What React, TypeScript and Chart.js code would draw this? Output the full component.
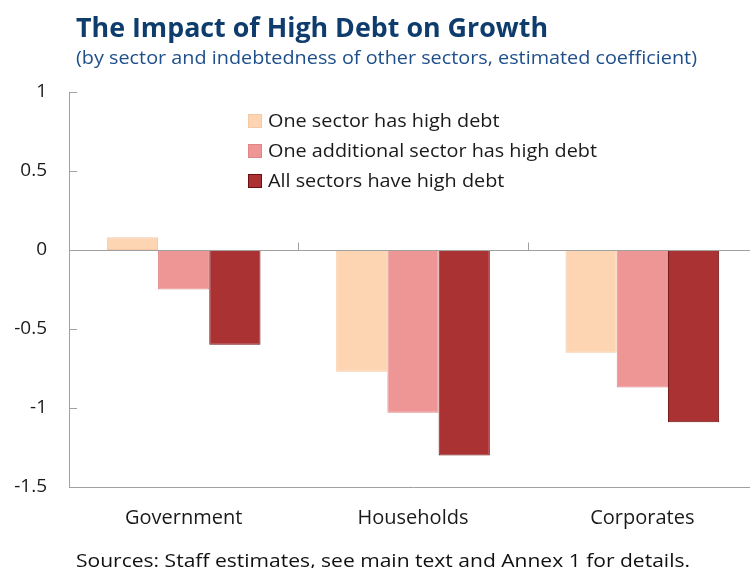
import { useEffect, useRef } from 'react';
import { Chart, registerables } from 'chart.js';

Chart.register(...registerables);

const categories = ['Government', 'Households', 'Corporates'];
const oneSector = [0.08, -0.77, -0.65];
const oneAdditional = [-0.25, -1.03, -0.87];
const allSectors = [-0.6, -1.3, -1.09];
const yTicks = [1, 0.5, 0, -0.5, -1, -1.5];
const seriesNames = ['One sector has high debt', 'One additional sector has high debt', 'All sectors have high debt'];

const titleText = 'The Impact of High Debt on Growth';
const subtitleText = '(by sector and indebtedness of other sectors, estimated coefficient)';
const sourceText = 'Sources: Staff estimates, see main text and Annex 1 for details.';

const FONT = '"Open Sans", "Noto Sans", sans-serif';
const fills = ['#FDD5B3', '#EE9696', '#AA3232'];
const borders = ['#F6C9A2', '#E28585', '#6E0E0E'];

function fitText(ctx: CanvasRenderingContext2D, text: string, x: number, y: number, width: number) {
  const w = ctx.measureText(text).width;
  ctx.save();
  ctx.translate(x, y);
  ctx.scale(width / w, 1);
  ctx.fillText(text, 0, 0);
  ctx.restore();
}

const overlay = {
  id: 'overlay',
  afterDatasetsDraw(chart: any) {
    const { ctx, chartArea, scales } = chart;
    const x = scales.x;
    const y = scales.y;
    const y0 = Math.round(y.getPixelForValue(0)) + 0.5;
    ctx.save();
    ctx.strokeStyle = '#a0a0a0';
    ctx.lineWidth = 1;
    ctx.beginPath();
    ctx.moveTo(chartArea.left, y0);
    ctx.lineTo(chartArea.right, y0);
    for (let i = 1; i < categories.length; i++) {
      const px = Math.round((x.getPixelForValue(i - 1) + x.getPixelForValue(i)) / 2) + 0.5;
      ctx.moveTo(px, y0 - 8);
      ctx.lineTo(px, y0);
    }
    yTicks.forEach((v) => {
      const py = Math.round(y.getPixelForValue(v)) + 0.5;
      ctx.moveTo(chartArea.left, py);
      ctx.lineTo(chartArea.left + 8, py);
    });
    ctx.stroke();
    ctx.restore();
  },
  afterDraw(chart: any) {
    const { ctx, chartArea } = chart;
    ctx.save();
    ctx.textBaseline = 'alphabetic';
    ctx.textAlign = 'left';
    ctx.fillStyle = '#0E3C6C';
    ctx.font = `bold 26px ${FONT}`;
    fitText(ctx, titleText, 76, 37, 472);
    ctx.fillStyle = '#1F4F8A';
    ctx.font = `19px ${FONT}`;
    fitText(ctx, subtitleText, 76, 64, 621);
    ctx.fillStyle = '#111';
    ctx.font = `19px ${FONT}`;
    fitText(ctx, sourceText, 76, 567, 614);
    // legend
    const lx = chartArea.left + 179;
    const rows = [127, 157, 187];
    ctx.font = `19px ${FONT}`;
    const longest = ctx.measureText(seriesNames[1]).width;
    const k = 329 / longest;
    seriesNames.forEach((name, i) => {
      ctx.fillStyle = fills[i];
      ctx.fillRect(lx, rows[i] - 13, 14, 14);
      ctx.strokeStyle = borders[i];
      ctx.lineWidth = 1;
      ctx.strokeRect(lx + 0.5, rows[i] - 12.5, 13, 13);
      ctx.fillStyle = '#1a1a1a';
      const w = ctx.measureText(name).width;
      fitText(ctx, name, lx + 20, rows[i], w * k);
    });
    ctx.restore();
  },
};

function App() {
  const ref = useRef<HTMLCanvasElement | null>(null);
  useEffect(() => {
    if (!ref.current) return;
    const data = [oneSector, oneAdditional, allSectors];
    const chart = new Chart(ref.current, {
      type: 'bar',
      data: {
        labels: categories,
        datasets: data.map((d, i) => ({
          label: seriesNames[i],
          data: d,
          backgroundColor: fills[i],
          borderColor: borders[i],
          borderWidth: 1,
          borderSkipped: false,
          categoryPercentage: 0.67,
          barPercentage: 1,
        })),
      },
      options: {
        animation: false,
        responsive: false,
        maintainAspectRatio: false,
        layout: { padding: { top: 92, left: 0, right: 0, bottom: 0 } },
        plugins: { legend: { display: false }, tooltip: { enabled: false }, title: { display: false } },
        scales: {
          x: {
            grid: { display: false, drawTicks: false },
            border: { display: true, color: '#a0a0a0' },
            ticks: { color: '#1a1a1a', font: { family: FONT, size: 20 }, padding: 19, maxRotation: 0 },
            afterFit: (s: any) => { s.height = 81; },
          },
          y: {
            min: -1.5,
            max: 1,
            grid: { display: false, drawTicks: false },
            border: { display: true, color: '#a0a0a0' },
            afterBuildTicks: (s: any) => { s.ticks = yTicks.map((v) => ({ value: v })); },
            ticks: {
              color: '#1a1a1a',
              font: { family: FONT, size: 19 },
              padding: 22,
              callback: (v: any) => String(v),
            },
            afterFit: (s: any) => { s.width = 69; },
          },
        },
      },
      plugins: [overlay],
    });
    return () => chart.destroy();
  }, []);
  return (
    <div style={{ position: 'fixed', left: 0, top: 0, width: 750, height: 568, overflow: 'hidden', background: '#fff' }}>
      <canvas ref={ref} width={757} height={568} style={{ display: 'block', width: 757, height: 568 }} />
    </div>
  );
}

export default App;
